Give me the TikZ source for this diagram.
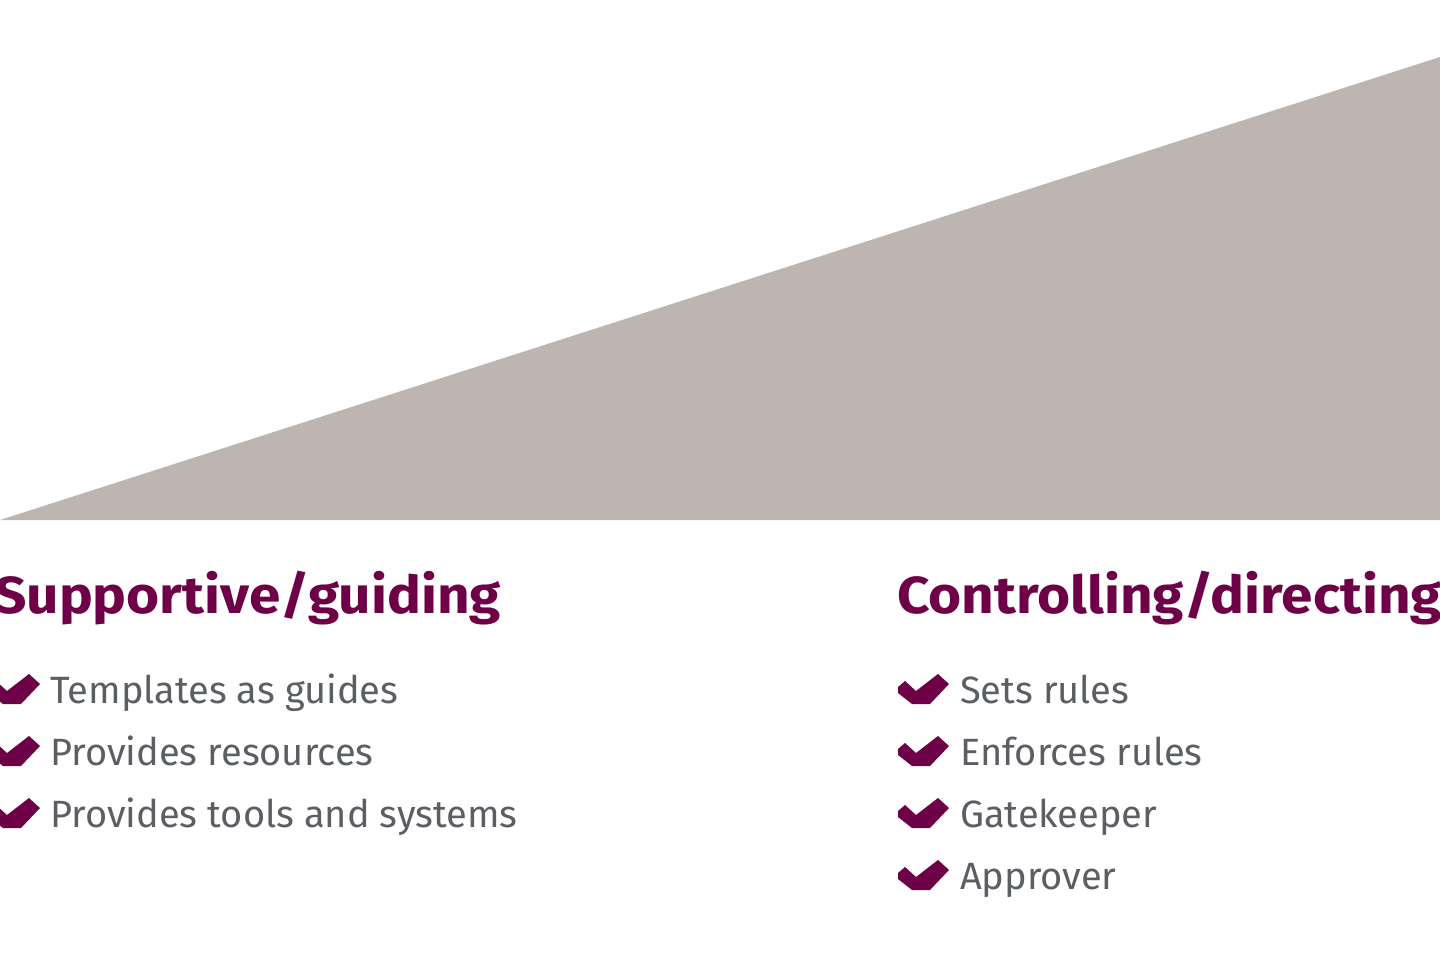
\documentclass[tikz,border=0pt]{standalone}
\usepackage{fontspec}
\setmainfont{Fira Sans}
\newfontfamily\titlefont[FakeStretch=1.09]{Fira Sans}
\definecolor{plum}{HTML}{6D0046}
\definecolor{greytxt}{HTML}{5B5F64}
\definecolor{wedge}{HTML}{BDB5B1}
\begin{document}
\begin{tikzpicture}[x=1pt,y=-1pt,
  title/.style={anchor=base west,inner sep=0pt,text=plum,font=\fontsize{52}{60}\selectfont\titlefont\bfseries},
  item/.style={anchor=base west,inner sep=0pt,text=greytxt,font=\fontsize{38}{44}\selectfont},
  check/.pic={\fill[plum] (-51,-16)--(-44,-22)--(-33,-12)--(-11,-29)--(0,-19)--(-19,1)--(-37,1)--(-51,-10)--cycle;}]
\useasboundingbox (0,0) rectangle (1440,960);
\fill[wedge] (0,520) -- (1440,520) -- (1440,57) -- cycle;
\node[title] (t1) at (-6,613) {Supportive/guiding};
\node[title] (t2) at (897,613) {Controlling/directing};
\foreach \y/\t [count=\i] in {703/Templates as guides,765/Provides resources,827/Provides tools and systems}{
  \pic at (40,\y) {check};
  \node[item] (l\i) at (50,\y) {\t};}
\foreach \y/\t [count=\i] in {703/Sets rules,765/Enforces rules,827/Gatekeeper,889/Approver}{
  \pic at (949,\y) {check};
  \node[item] (r\i) at (960,\y) {\t};}
\end{tikzpicture}
\end{document}
